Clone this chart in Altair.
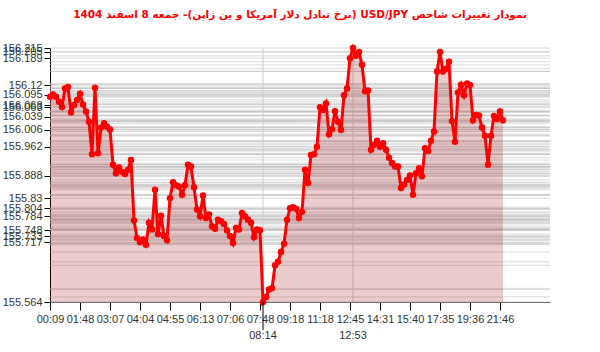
import altair as alt
import pandas as pd

# USD/JPY values (one per point, left to right)
values = [
    156.090, 156.096, 156.090, 156.077, 156.064, 156.111, 156.115, 156.050, 156.069, 156.082,
    156.098, 156.070, 156.052, 156.026, 155.943, 156.113, 155.945, 156.011, 156.022, 156.013,
    156.006, 155.916, 155.894, 155.909, 155.898, 155.892, 155.903, 155.928, 155.773, 155.728,
    155.717, 155.724, 155.711, 155.767, 155.750, 155.852, 155.738, 155.785, 155.733, 155.722,
    155.830, 155.871, 155.863, 155.860, 155.839, 155.863, 155.916, 155.911, 155.858, 155.801,
    155.784, 155.837, 155.779, 155.788, 155.758, 155.752, 155.775, 155.771, 155.764, 155.747,
    155.733, 155.715, 155.754, 155.750, 155.792, 155.784, 155.775, 155.767, 155.730, 155.750,
    155.748, 155.564, 155.577, 155.596, 155.599, 155.658, 155.667, 155.692, 155.713, 155.775,
    155.804, 155.807, 155.803, 155.779, 155.795, 155.903, 155.869, 155.941, 155.943, 155.962,
    156.063, 156.056, 156.073, 155.994, 156.007, 156.053, 156.026, 156.005, 156.094, 156.111,
    156.189, 156.215, 156.195, 156.205, 156.172, 156.104, 156.106, 155.954, 155.967, 155.977,
    155.962, 155.971, 155.954, 155.934, 155.920, 155.911, 155.911, 155.856, 155.865, 155.877,
    155.888, 155.839, 155.894, 155.907, 155.886, 155.958, 155.951, 155.977, 156.001, 156.155,
    156.205, 156.155, 156.162, 156.180, 156.028, 155.975, 156.101, 156.121, 156.094, 156.124,
    156.120, 156.030, 156.043, 156.042, 156.011, 155.990, 155.916, 155.990, 156.041, 156.033,
    156.052, 156.030,
]

tick_idx = [0, 10, 20, 30, 40, 50, 60, 70, 80, 90, 100, 110, 120, 130, 140, 150]
tick_labels = ["00:09", "01:48", "03:07", "04:04", "04:55", "06:13", "07:06", "07:48",
               "09:18", "11:18", "12:45", "14:31", "15:40", "17:35", "19:36", "21:46"]
extra_idx = [71, 101]
extra_labels = ["08:14", "12:53"]
y_labels = [156.215, 156.205, 156.189, 156.12, 156.095, 156.068, 156.063, 156.039, 156.006,
            155.962, 155.888, 155.83, 155.804, 155.784, 155.748, 155.733, 155.717, 155.564]

title_text = "نمودار تغییرات شاخص USD/JPY (نرخ تبادل دلار آمریکا و ین ژاپن)- جمعه  8 اسفند 1404"

df = pd.DataFrame({"idx": list(range(len(values))), "value": values})
extra_df = pd.DataFrame({"idx": extra_idx, "label": extra_labels})
min_df = extra_df.iloc[[0]]

W, H = 500, 254
y_min = min(y_labels)

label_array = "[" + ",".join("'" + t + "'" for t in tick_labels) + "]"
x_scale = alt.Scale(domain=[0, W / 3.0], nice=False, zero=False)
y_scale = alt.Scale(domain=[y_min, max(y_labels)], nice=False, zero=False)

x_axis = alt.Axis(values=tick_idx, labelExpr=label_array + "[round(datum.value/10)]",
                  title=None, grid=False, tickSize=8, tickColor="#000", domainColor="#555",
                  labelFontSize=11, labelColor="#333", labelFont="Liberation Sans",
                  labelFlush=False, labelOverlap=False, labelPadding=3)
y_axis = alt.Axis(values=y_labels, labelExpr="'' + datum.value", title=None, grid=False,
                  tickSize=6, tickColor="#000", domainColor="#000",
                  labelFontSize=11, labelColor="#333", labelFont="Liberation Sans",
                  labelFlush=False, labelOverlap=False, labelPadding=2)

X = alt.X("idx:Q", scale=x_scale, axis=x_axis)
Y = alt.Y("value:Q", scale=y_scale, axis=y_axis)

grid = alt.Chart(df).mark_rule(color="#bbbbbb", strokeWidth=1, opacity=0.55).encode(y=Y)
vgrid = alt.Chart(extra_df).mark_rule(color="#cccccc", strokeWidth=1).encode(x=X)
area = alt.Chart(df).mark_area(color="#990000", opacity=0.2).encode(
    x=X, y=Y, y2=alt.datum(y_min))
line = alt.Chart(df).mark_line(color="#ff0000", strokeWidth=3).encode(x=X, y=Y)
pts = alt.Chart(df).mark_circle(color="#ff0000", size=42, opacity=1).encode(x=X, y=Y)
long_tick = alt.Chart(min_df).mark_rule(color="#000").encode(
    x=X, y=alt.value(H), y2=alt.value(H + 28))
extra_text = alt.Chart(extra_df).mark_text(
    fontSize=11, color="#333", font="Liberation Sans", baseline="middle").encode(
    x=X, y=alt.value(H + 34), text="label:N")

chart = alt.layer(grid, vgrid, area, line, pts, long_tick, extra_text).properties(
    width=W, height=H,
    title=alt.TitleParams("\u202b" + title_text + "\u202c", color="#ff0000", fontSize=10.5,
                          fontWeight="bold", font="DejaVu Sans", anchor="middle", offset=22),
    padding={"left": 2, "top": 9, "right": 10, "bottom": 2},
    background="white",
).configure_view(stroke=None)

chart.save("out.html", embed_options={"renderer": "svg", "actions": False})
